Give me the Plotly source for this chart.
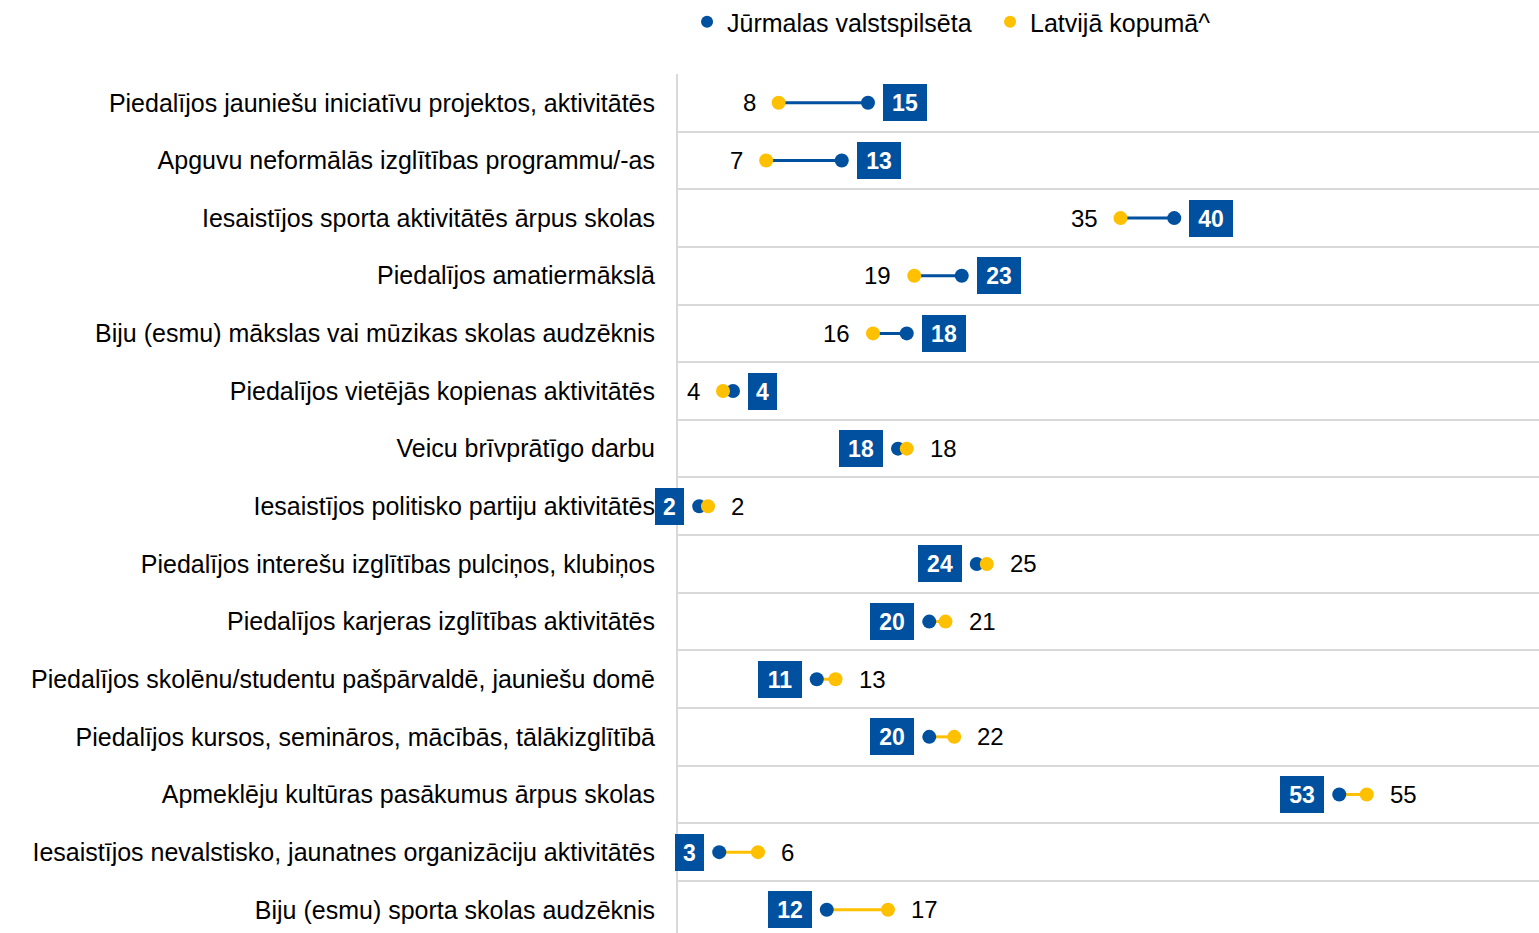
import plotly.graph_objects as go

categories = [
    "Piedalījos jauniešu iniciatīvu projektos, aktivitātēs",
    "Apguvu neformālās izglītības programmu/-as",
    "Iesaistījos sporta aktivitātēs ārpus skolas",
    "Piedalījos amatiermākslā",
    "Biju (esmu) mākslas vai mūzikas skolas audzēknis",
    "Piedalījos vietējās kopienas aktivitātēs",
    "Veicu brīvprātīgo darbu",
    "Iesaistījos politisko partiju aktivitātēs",
    "Piedalījos interešu izglītības pulciņos, klubiņos",
    "Piedalījos karjeras izglītības aktivitātēs",
    "Piedalījos skolēnu/studentu pašpārvaldē, jauniešu domē",
    "Piedalījos kursos, semināros, mācībās, tālākizglītībā",
    "Apmeklēju kultūras pasākumus ārpus skolas",
    "Iesaistījos nevalstisko, jaunatnes organizāciju aktivitātēs",
    "Biju (esmu) sporta skolas audzēknis",
]
jurmala = [15.2, 13.1, 39.7, 22.7, 18.3, 4.4, 17.6, 1.7, 23.9, 20.1, 11.1, 20.1, 52.9, 3.3, 11.9]
latvija = [8.05, 7.05, 35.4, 18.9, 15.6, 3.6, 18.3, 2.4, 24.7, 21.4, 12.6, 22.1, 55.1, 6.4, 16.8]
series_names = ["Jūrmalas valstspilsēta", "Latvijā kopumā^"]

BLUE = "#0050A0"
YELLOW = "#FFC000"
GRID = "#D9D9D9"
FONT = "Arial, Liberation Sans, sans-serif"

rows = list(range(len(categories)))

fig = go.Figure()

# connecting lines, coloured by the larger value
for color, cond in [(BLUE, lambda b, y: b >= y), (YELLOW, lambda b, y: b < y)]:
    xs, ys = [], []
    for i, (b, y) in enumerate(zip(jurmala, latvija)):
        if cond(b, y):
            xs += [b, y, None]
            ys += [i, i, None]
    fig.add_trace(go.Scatter(x=xs, y=ys, mode="lines", line=dict(color=color, width=3),
                             showlegend=False, hoverinfo="skip"))

fig.add_trace(go.Scatter(x=jurmala, y=rows, mode="markers", name=series_names[0],
                         marker=dict(color=BLUE, size=14)))
fig.add_trace(go.Scatter(x=latvija, y=rows, mode="markers", name=series_names[1],
                         marker=dict(color=YELLOW, size=14)))

annotations = []
for i, (b, y) in enumerate(zip(jurmala, latvija)):
    bt = f"{b:.0f}"
    right = b >= y
    annotations.append(dict(
        x=b, y=i, xref="x", yref="y", text=f"<b>{bt}</b>", showarrow=False,
        xanchor="left" if right else "right", xshift=15 if right else -15,
        bgcolor=BLUE, borderpad=0, borderwidth=0,
        width=15 * len(bt) + 14, height=37,
        font=dict(family=FONT, size=23, color="white"),
    ))
    annotations.append(dict(
        x=y, y=i, xref="x", yref="y", text=f"{y:.0f}", showarrow=False,
        xanchor="right" if right else "left", xshift=-21 if right else 21,
        font=dict(family=FONT, size=24, color="black"),
    ))

fig.update_layout(
    width=1539, height=933,
    margin=dict(l=678, r=0, t=74, b=0, autoexpand=False),
    paper_bgcolor="white", plot_bgcolor="white",
    font=dict(family=FONT, size=23, color="black"),
    annotations=annotations,
    legend=dict(orientation="h", x=0.0105, xanchor="left", y=1.0605, yanchor="middle",
                font=dict(family=FONT, size=25, color="black"),
                entrywidth=258, entrywidthmode="pixels",
                bgcolor="rgba(0,0,0,0)", itemsizing="constant"),
    xaxis=dict(range=[0, 861 / 12.5], visible=False, fixedrange=True),
    yaxis=dict(
        range=[-0.5 + 859 / 57.64, -0.5],
        tickmode="array", tickvals=rows, ticktext=categories,
        tickfont=dict(family=FONT, size=25, color="black"),
        showgrid=False, zeroline=False,
        showline=True, linecolor=GRID, linewidth=2,
        ticks="", ticklabelstandoff=16, fixedrange=True,
        minor=dict(tickmode="array", tickvals=[i - 0.5 for i in range(len(categories) + 1)],
                   showgrid=True, gridcolor=GRID, gridwidth=2, ticks=""),
    ),
)

fig.write_html("out.html", config={"displayModeBar": False},
               post_script="document.body.style.margin='0';document.body.style.overflow='hidden';")
